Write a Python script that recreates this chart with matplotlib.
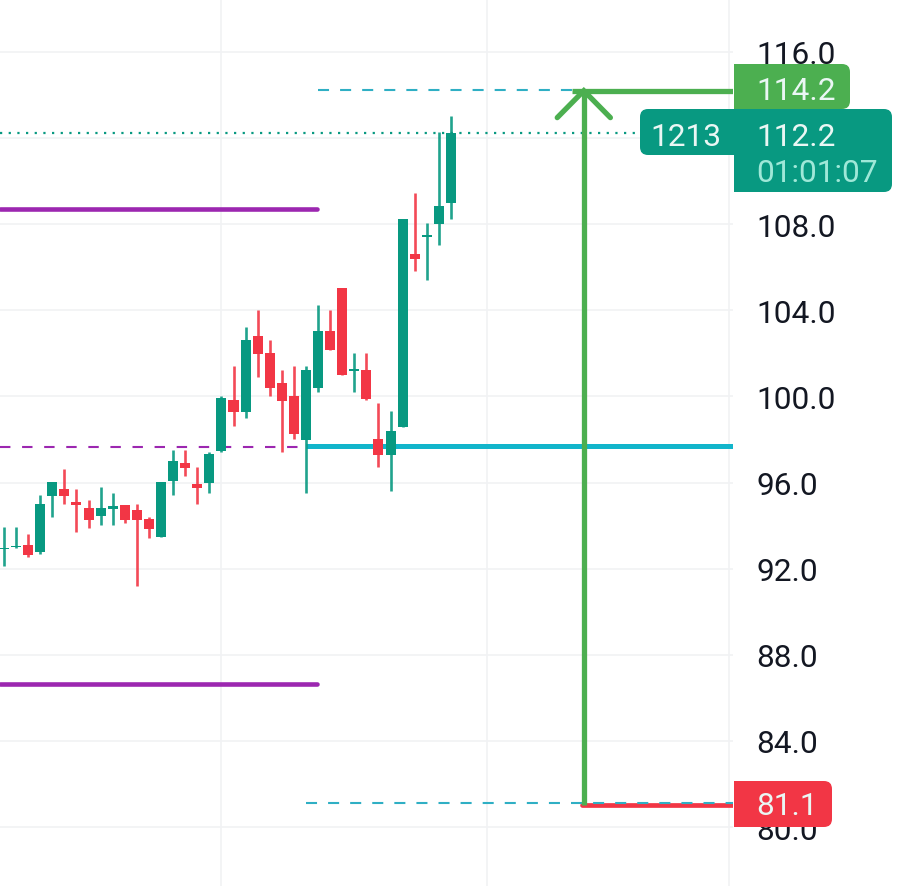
import matplotlib
matplotlib.use("Agg")
import matplotlib.pyplot as plt
from matplotlib.patches import FancyBboxPatch, Rectangle

plt.rcParams["font.family"] = ["Roboto", "DejaVu Sans"]

opens = [92.91, 93.01, 93.10, 92.78, 95.38, 95.70, 95.10, 94.82, 94.45, 94.77,
         94.96, 94.73, 94.31, 93.47, 96.07, 96.91, 95.93, 95.98, 97.47, 99.84,
         99.28, 102.81, 102.02, 100.62, 100.02, 97.98, 100.39, 103.04, 105.04, 101.18,
         101.23, 98.02, 97.28, 98.58, 106.62, 107.41, 108.01, 108.99]
highs = [93.96, 93.96, 93.61, 95.42, 95.70, 96.63, 95.70, 95.19, 95.79, 95.52,
         94.96, 95.00, 94.40, 96.03, 97.51, 97.51, 96.72, 97.42, 100.02, 101.41,
         103.23, 104.02, 102.62, 101.23, 101.41, 101.41, 104.25, 104.02, 105.04, 102.02,
         102.02, 99.70, 99.32, 108.24, 109.45, 108.06, 112.28, 113.03]
lows = [92.12, 92.96, 92.54, 92.68, 94.40, 95.00, 93.70, 93.89, 94.03, 94.03,
        94.12, 91.20, 93.43, 93.47, 95.42, 96.30, 95.00, 95.52, 97.42, 98.63,
        99.00, 100.90, 100.02, 97.42, 98.02, 95.52, 100.21, 102.16, 101.00, 100.21,
        99.84, 96.72, 95.61, 98.58, 105.83, 105.41, 107.04, 108.24]
closes = [92.96, 93.05, 92.64, 95.00, 96.03, 95.38, 94.96, 94.26, 94.82, 94.91,
          94.26, 94.26, 93.84, 96.03, 97.00, 96.68, 95.75, 97.33, 99.93, 99.28,
          102.62, 101.97, 100.39, 99.79, 98.26, 101.23, 103.04, 102.16, 101.00, 101.28,
          99.88, 97.28, 98.40, 108.24, 106.38, 107.50, 108.85, 112.24]

price_ticks = [116, 112, 108, 104, 100, 96, 92, 88, 84, 80]
hidden_ticks = [112]  # sits behind the price flags
time_grid = [18, 40, 60]

upper_band = 108.71
lower_band = 86.64
mid_band = 97.65
entry = 97.7
target = 114.2
stop = 81.05
last_price = 112.24

GREEN = "#089981"
RED = "#F23645"
PURPLE = "#9C27B0"
CYAN = "#12B5CB"
DASH = "#2FAFC4"
ARROW = "#4CAF50"
W, H = 904, 887

fig = plt.figure(figsize=(W / 100, H / 100), dpi=100)
ax = fig.add_axes([0, 0, 733 / W, 1])
ax.set_xlim(-0.33, 60.35)
ax.set_ylim(77.265, 118.46)

ax.set_yticks(price_ticks)
ax.set_yticklabels(["" if p in hidden_ticks else f"{p:.1f}" for p in price_ticks],
                   fontsize=22.8, color="#131722")
ax.set_xticks(time_grid)
ax.set_xticklabels([])
ax.yaxis.tick_right()
ax.tick_params(length=0)
ax.tick_params(axis="y", pad=16.6)
ax.grid(color="#F1F2F4", linewidth=1.2)
ax.set_axisbelow(True)
for s in ax.spines.values():
    s.set_visible(False)

# bands and levels
ax.plot([-0.33, 25.9], [upper_band, upper_band], color=PURPLE, lw=3.3, zorder=2, solid_capstyle="round")
ax.plot([-0.33, 25.9], [lower_band, lower_band], color=PURPLE, lw=3.3, zorder=2, solid_capstyle="round")
ax.plot([-0.33, 24.5], [mid_band, mid_band], color=PURPLE, lw=1.5, ls=(0, (5, 5.6)), zorder=2)
ax.plot([25, 60.35], [entry, entry], color=CYAN, lw=3.6, zorder=2, solid_capstyle="butt")
ax.plot([26, 47], [target + 0.03, target + 0.03], color=DASH, lw=1.5, ls=(0, (5.3, 5.3)), zorder=2)

# candles
for i in range(len(opens)):
    c = GREEN if closes[i] >= opens[i] else RED
    ax.vlines(i, lows[i], highs[i], color=c, lw=1.9, alpha=0.9, zorder=3)
    ax.bar(i, abs(closes[i] - opens[i]), bottom=min(opens[i], closes[i]), width=0.83, color=c, zorder=3)

ax.plot([-0.33, 60.35], [last_price, last_price], color=GREEN, lw=1.6, ls=(0, (1, 2.9)), zorder=4)

# long position arrow
ax.plot([47.85, 60.35], [stop, stop], color=RED, lw=3.4, zorder=5, solid_capstyle="round")
ax.plot([25, 60.35], [stop + 0.09, stop + 0.09], color=DASH, lw=1.5, ls=(0, (5.3, 5.3)), zorder=5)
ax.plot([48, 48], [stop, target], color=ARROW, lw=3.8, zorder=5, solid_capstyle="butt")
ax.plot([47, 60.35], [target, target], color=ARROW, lw=3.8, zorder=5, solid_capstyle="butt")
ax.plot([45.8, 48, 50.2], [target - 1.25, target, target - 1.25], color=ARROW, lw=3.8, zorder=5,
        solid_capstyle="round", solid_joinstyle="miter")


def flag(x0, y0, x1, y1, color, square):
    # pixel box from the top left, rounded except on the side next to the axis
    r = 8
    box = FancyBboxPatch((x0 + r, H - y1 + r), x1 - x0 - 2 * r, y1 - y0 - 2 * r,
                         boxstyle=f"round,pad={r}", fc=color, ec="none",
                         transform=None, zorder=6, clip_on=False)
    fig.add_artist(box)
    sx = x0 if square == "left" else x1 - 2 * r
    fig.add_artist(Rectangle((sx, H - y1), 2 * r, y1 - y0, fc=color, ec="none", transform=None, zorder=6))


def label(x, y, s, color="#EAF7F4"):
    fig.text(x / W, 1 - y / H, s, fontsize=22.8, color=color, ha="left", va="center_baseline", zorder=7)


flag(734, 65, 850, 110, ARROW, "left")
flag(734, 110, 892, 193, GREEN, "left")
flag(640, 110, 734, 156, GREEN, "right")
flag(734, 782, 832, 828, RED, "left")

label(756, 89, "114.2")
label(756, 134, "112.2")
label(756, 171, "01:01:07", "#9FE8D8")
label(650, 134, "1213")
label(756, 804, "81.1")

fig.savefig("out.png", dpi=100)
